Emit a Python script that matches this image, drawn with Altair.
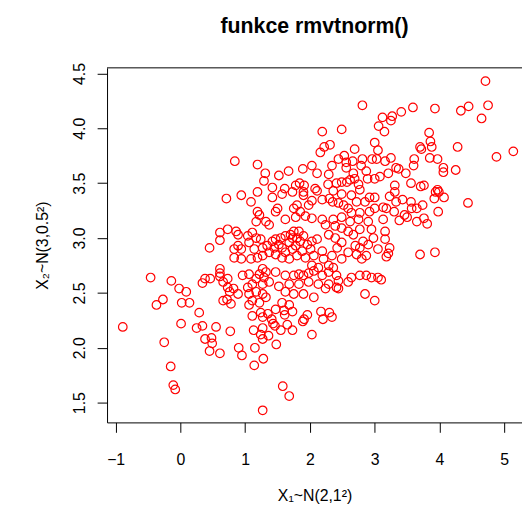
import altair as alt
import pandas as pd

# ---- data (X1, X2 pairs) ----
x1 = [
    # upper-left
    0.84,
    # upper-middle
    2.81, 3.12, 2.19, 2.49, 3.06, 2.22, 2.31, 2.16, 2.69, 3.00, 3.05, 1.19, 1.31, 1.29, 1.52, 1.67,
    1.89, 2.03, 2.11, 2.29, 2.34, 2.44, 2.53, 2.56, 2.56, 2.66, 2.79, 2.81, 2.67, 2.87, 2.89, 2.96,
    3.03, 3.00, 3.08, 1.42, 1.61, 1.78, 1.84, 1.91, 2.08, 2.28, 2.41, 2.49, 2.57, 2.62, 2.69, 2.75,
    # upper-right
    4.71, 3.59, 3.93, 4.33, 4.45, 4.75, 4.65, 3.41, 3.27, 3.25, 3.15, 3.84, 3.86, 3.70, 3.72, 3.88,
    4.28, 5.14, 4.88, 3.85, 3.97, 3.61, 3.60, 3.25, 3.16, 3.33, 3.37, 3.48, 3.21, 4.06, 4.06, 4.25,
    3.56, 3.71, 3.76, 3.97, 3.31,
    # middle-left
    0.71, 0.94, 0.61, 0.73, 0.86, 0.89, 0.61, 0.45, 0.83, 0.89, 0.94, 0.83, 0.94, 0.61, 0.61, -0.46,
    -0.14, -0.02, 0.09, 0.34, 0.38, 0.46, 0.73, 0.66, 0.61, 0.73, 0.82, 0.76, 0.89, 0.96, -0.27, -0.37,
    0.02, 0.14, 0.66, 0.72, 0.78,
    # lower-left
    -0.89, 0.01, 0.29, 0.25, 0.34, 0.55, 0.77, -0.25, 0.38, 0.48, 0.49, 0.45, 0.61, 0.90, 0.95, -0.15,
    -0.11, -0.08,
    # lower-middle
    1.11, 1.24, 1.47, 1.60, 1.73, 1.27, 1.41, 1.43, 1.46, 1.61, 1.65, 1.35, 1.89, 1.91, 1.96, 2.17,
    2.30, 2.34, 2.20, 1.13, 1.27, 1.24, 1.27, 1.36, 1.55, 1.73, 2.03, 1.48, 1.15, 1.28, 1.14, 1.58,
    1.68, 1.27,
    # middle-right
    3.31, 3.94, 3.99, 3.92, 4.07, 4.44, 3.23, 3.33, 3.43, 3.56, 3.74, 3.65, 3.57, 3.13, 3.18, 3.30,
    3.46, 3.50, 3.38, 3.98, 3.76, 3.65, 3.81, 3.13, 3.16, 3.16, 3.23, 3.21, 3.18, 3.70, 3.93, 3.10,
    # centre
    1.19, 1.42, 1.57, 1.73, 1.90, 1.90, 2.11, 2.36, 2.49, 2.64, 2.77, 2.92, 3.00,
    1.09, 1.50, 1.47, 1.75, 1.80, 1.85, 1.98, 2.03, 2.19, 2.30, 2.35, 2.44, 2.52, 2.59, 2.64, 2.72,
    2.85, 2.77, 2.92, 3.00,
    1.19, 1.22, 1.17, 1.32, 1.37,
    1.62, 1.78, 1.93, 2.03, 2.19, 2.36, 2.49, 2.62, 2.75, 2.90,
    1.04, 1.11, 1.17, 1.24, 1.06, 1.14, 1.27, 1.34, 1.42, 1.47, 1.55, 1.62, 1.70, 1.75, 1.80, 1.85,
    1.90, 1.96, 2.03, 2.11, 2.01, 1.88, 1.73, 1.62, 1.57, 1.47, 1.37, 1.27, 1.19, 1.09, 1.68, 1.80,
    1.93, 2.06, 1.52, 1.68, 1.78, 1.57, 1.45, 1.73, 1.83,
    2.24, 2.29, 2.39, 2.49, 2.59, 2.67, 2.70, 2.77, 2.82, 2.90, 2.98, 3.05, 2.72, 2.59, 2.42, 2.34,
    2.49, 2.19, 2.21, 2.29, 2.36, 2.13, 2.03, 2.80, 2.87, 2.49, 2.39, 2.77, 2.95,
    1.27, 1.32, 1.22, 1.29, 1.17, 1.06, 1.47, 1.62, 1.75, 1.83, 1.90, 1.98, 2.06, 2.19, 2.29, 2.41,
    2.64, 2.77, 2.87, 2.95, 3.05, 2.59, 2.44, 2.29, 2.13, 1.98, 1.83, 1.68, 1.52, 1.37, 1.27, 1.11,
    1.04,
    1.06, 1.17, 1.27, 1.11, 1.22, 1.32, 1.62, 1.75, 1.90, 2.06, 2.24, 2.41, 2.44, 2.85, 3.00, 1.57,
    1.68, 1.06,
]
x2 = [
    # upper-left
    3.70,
    # upper-middle
    4.21, 4.10, 3.97, 3.99, 4.02, 3.83, 3.85, 3.78, 3.81, 3.87, 3.80, 3.67, 3.59, 3.52, 3.57, 3.61,
    3.63, 3.66, 3.59, 3.58, 3.66, 3.72, 3.75, 3.69, 3.64, 3.70, 3.66, 3.72, 3.59, 3.61, 3.54, 3.72,
    3.72, 3.54, 3.56, 3.46, 3.45, 3.48, 3.50, 3.48, 3.45, 3.49, 3.50, 3.51, 3.51, 3.53, 3.54, 3.49,
    # upper-right
    4.43, 4.19, 4.18, 4.16, 4.20, 4.21, 4.09, 4.15, 4.11, 4.07, 3.97, 3.96, 3.88, 3.83, 3.81, 3.83,
    3.83, 3.79, 3.74, 3.73, 3.72, 3.72, 3.66, 3.73, 3.70, 3.64, 3.63, 3.59, 3.59, 3.64, 3.60, 3.62,
    3.50, 3.47, 3.48, 3.44, 3.48,
    # middle-left
    3.36, 3.39, 3.05, 3.08, 3.06, 3.03, 2.98, 2.91, 2.90, 2.93, 2.90, 2.82, 2.81, 2.72, 2.68, 2.64,
    2.61, 2.54, 2.51, 2.59, 2.63, 2.63, 2.63, 2.60, 2.65, 2.55, 2.54, 2.51, 2.49, 2.66, 2.44, 2.39,
    2.41, 2.41, 2.43, 2.44, 2.40,
    # lower-left
    2.19, 2.22, 2.32, 2.18, 2.20, 2.19, 2.15, 2.05, 2.08, 2.09, 2.04, 1.97, 1.95, 2.00, 1.93, 1.83,
    1.66, 1.62,
    # lower-middle
    2.29, 2.32, 2.35, 2.34, 2.33, 2.28, 2.26, 2.22, 2.20, 2.30, 2.21, 2.31, 2.24, 2.26, 2.30, 2.33,
    2.32, 2.28, 2.26, 2.16, 2.18, 2.12, 2.08, 2.11, 2.16, 2.16, 2.12, 2.03, 2.00, 1.90, 1.84, 1.65,
    1.56, 1.43,
    # middle-right
    3.42, 3.42, 3.42, 3.36, 3.37, 3.32, 3.38, 3.33, 3.35, 3.33, 3.30, 3.27, 3.27, 3.28, 3.27, 3.24,
    3.21, 3.19, 3.16, 3.24, 3.18, 3.15, 3.13, 3.17, 3.06, 2.99, 2.91, 2.86, 2.83, 2.85, 2.87, 2.62,
    # centre
    3.42, 3.37, 3.40, 3.42, 3.42, 3.39, 3.43, 3.43, 3.40, 3.39, 3.44, 3.37, 3.37,
    3.33, 3.27, 3.24, 3.27, 3.30, 3.24, 3.30, 3.34, 3.35, 3.36, 3.33, 3.32, 3.30, 3.27, 3.23, 3.33,
    3.33, 3.23, 3.24, 3.27,
    3.24, 3.21, 3.15, 3.15, 3.12,
    3.17, 3.19, 3.20, 3.18, 3.17, 3.17, 3.19, 3.15, 3.17, 3.15,
    3.02, 3.05, 3.00, 2.99, 2.96, 2.90, 2.91, 2.93, 2.97, 2.99, 3.00, 3.02, 3.03, 3.06, 3.00, 2.97,
    3.02, 2.94, 2.97, 2.99, 2.90, 2.88, 2.90, 2.87, 2.82, 2.85, 2.87, 2.84, 2.82, 2.81, 2.81, 2.84,
    2.82, 2.84, 2.94, 2.96, 2.93, 2.91, 2.91, 3.00, 3.06,
    3.12, 3.03, 3.00, 2.96, 3.06, 3.03, 2.93, 2.91, 2.97, 2.94, 3.00, 2.90, 2.85, 2.87, 2.91, 2.84,
    2.81, 2.88, 2.81, 2.75, 2.73, 2.73, 2.75, 2.81, 2.84, 3.09, 3.11, 3.08, 3.08,
    2.72, 2.69, 2.67, 2.64, 2.63, 2.67, 2.69, 2.66, 2.66, 2.67, 2.66, 2.68, 2.70, 2.66, 2.69, 2.66,
    2.64, 2.66, 2.66, 2.64, 2.64, 2.60, 2.61, 2.58, 2.58, 2.60, 2.58, 2.58, 2.56, 2.60, 2.58, 2.58,
    2.55,
    2.49, 2.51, 2.49, 2.43, 2.41, 2.46, 2.51, 2.49, 2.49, 2.46, 2.54, 2.55, 2.54, 2.49, 2.43, 2.41,
    2.39, 2.39,
]

x_ticks = [-1, 0, 1, 2, 3, 4, 5]
y_ticks = [1.5, 2.0, 2.5, 3.0, 3.5, 4.0, 4.5]
x_domain = [-1.133, 5.274]
y_domain = [1.32, 4.551]

title_text = "funkce rmvtnorm()"
x_title = "X\u2081~N(2,1\u00b2)"
y_title = "X\u2082~N(3,0.5\u00b2)"

df = pd.DataFrame({"x1": x1, "x2": x2})

FONT = "Liberation Sans"
W, H = 419, 358

points = alt.Chart(df).mark_point(
    shape="circle", filled=False, color="#FF0000", size=75, strokeWidth=1.2, opacity=1
).encode(
    x=alt.X(
        "x1:Q",
        scale=alt.Scale(domain=x_domain, nice=False, zero=False),
        axis=alt.Axis(
            values=x_ticks, format="d", title=x_title, grid=False,
            tickSize=10, labelPadding=33, labelBaseline="alphabetic",
            labelFlush=False, labelOverlap=False,
            titleX=W / 2, titleY=79, titleBaseline="alphabetic", titleAlign="center",
        ),
    ),
    y=alt.Y(
        "x2:Q",
        scale=alt.Scale(domain=y_domain, nice=False, zero=False),
        axis=alt.Axis(
            values=y_ticks, format=".1f", title=y_title, grid=False,
            tickSize=10, labelAngle=270, labelAlign="center", labelBaseline="alphabetic",
            labelPadding=13, labelFlush=False, labelOverlap=False,
            titleAngle=270, titleX=-60, titleY=H / 2, titleBaseline="alphabetic",
            titleAlign="center",
        ),
    ),
)

top_border = alt.Chart(pd.DataFrame({"v": [0]})).mark_rule(
    color="black", strokeWidth=1
).encode(x=alt.value(0), x2=alt.value(W), y=alt.value(0))

chart = alt.layer(points, top_border).properties(
    width=W,
    height=H,
    title=alt.TitleParams(
        title_text, fontSize=21.5, fontWeight="bold", font=FONT, color="black",
        baseline="alphabetic", offset=30, dy=22, anchor="middle",
    ),
    padding={"left": 100, "top": 58, "right": 0, "bottom": 83},
    autosize=alt.AutoSizeParams(type="none"),
).configure_view(
    stroke="transparent"
).configure_axis(
    labelFont=FONT, titleFont=FONT, labelFontSize=16, titleFontSize=16,
    titleFontWeight="normal", labelColor="black", titleColor="black",
    domainColor="black", tickColor="black", domainWidth=1, tickWidth=1,
)

chart.save("out.html", embed_options={"renderer": "svg", "actions": False})
